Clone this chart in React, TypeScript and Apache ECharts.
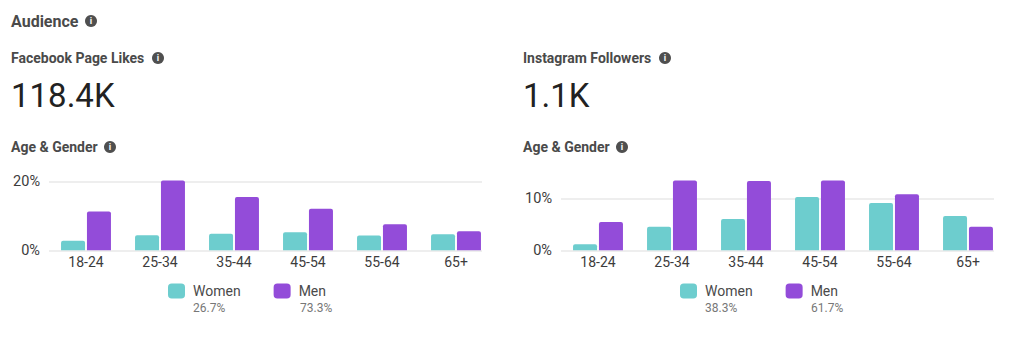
import React, { useEffect, useRef } from "react";
import * as echarts from "echarts";

const categories = ["18-24", "25-34", "35-44", "45-54", "55-64", "65+"];
const fbWomen = [2.8, 4.4, 4.8, 5.3, 4.3, 4.7];
const fbMen = [11.3, 20.4, 15.6, 12.1, 7.6, 5.6];
const igWomen = [1.2, 4.6, 6.1, 10.4, 9.2, 6.7];
const igMen = [5.5, 13.6, 13.5, 13.6, 10.9, 4.6];
const fbTicks = [0, 20];
const igTicks = [0, 10];
const fbShares = ["26.7%", "73.3%"];
const igShares = ["38.3%", "61.7%"];

const TEAL = "#6dcdce";
const PURPLE = "#934cd9";
const FONT = "Roboto, Arial, sans-serif";

const txt = (x: number, y: number, text: string, fontSize: number, fill: string, fontWeight: any = 400) => ({
  type: "text", x, y, style: { text, fontSize, fill, fontWeight, fontFamily: FONT, textVerticalAlign: "middle", textAlign: "left" },
});
const info = (x: number, y: number) => [
  { type: "circle", shape: { cx: x, cy: y, r: 6 }, style: { fill: "#4f4f4f" } },
  { type: "text", x, y, style: { text: "i", fontSize: 9, fontWeight: 700, fill: "#fff", fontFamily: FONT, textAlign: "center", textVerticalAlign: "middle" } },
];

export default function App() {
  const ref = useRef<HTMLDivElement>(null);
  useEffect(() => {
    document.body.style.margin = "0";
    const chart = echarts.init(ref.current!, null, { renderer: "svg" });
    const barGrid = (left: number) => ({ left, width: 444, top: 178.4, height: 71.9 });
    const lineGrid = (left: number) => ({ left, width: 433, top: 178.4, height: 71.9 });
    const xCat = (gridIndex: number) => ({
      type: "category", gridIndex, data: categories,
      axisLine: { show: false }, axisTick: { show: false },
      axisLabel: { color: "#3c3c3c", fontSize: 14, fontFamily: FONT, margin: 5 },
    });
    const xHidden = (gridIndex: number) => ({ type: "value", gridIndex, show: false, min: 0, max: 1 });
    const yHidden = (gridIndex: number, max: number) => ({ type: "value", gridIndex, min: 0, max, show: false, splitLine: { show: false } });
    const yShown = (gridIndex: number, max: number, ticks: number[]) => ({
      type: "value", gridIndex, min: 0, max,
      axisLine: { show: false },
      axisTick: { show: false, customValues: ticks },
      axisLabel: { customValues: ticks, formatter: "{value}%", color: "#3c3c3c", fontSize: 14.5, fontFamily: FONT, margin: 9 },
      splitLine: { show: true, lineStyle: { color: "#e9e9e9", width: 1.5 } },
    });
    const bar = (name: string, data: number[], color: string, idx: number) => ({
      type: "bar", name, data, xAxisIndex: idx, yAxisIndex: idx, barWidth: 24, barGap: "8%",
      itemStyle: { color, borderRadius: [2, 2, 0, 0] },
    });
    const legend = (left: number) => ({
      data: ["Women", "Men"], left, top: 283.5, orient: "horizontal", itemWidth: 17, itemHeight: 15, itemGap: 33,
      icon: "roundRect", selectedMode: false, padding: 0,
      textStyle: { color: "#4a4a4a", fontSize: 14, fontFamily: FONT, padding: [0, 0, 0, 3] },
    });
    chart.setOption({
      animation: false,
      backgroundColor: "#fff",
      grid: [barGrid(49), barGrid(561), lineGrid(49), lineGrid(561)],
      xAxis: [xCat(0), xCat(1), xHidden(2), xHidden(3)],
      yAxis: [yHidden(0, 21), yHidden(1, 14), yShown(2, 21, fbTicks), yShown(3, 14, igTicks)],
      legend: [legend(168), legend(680)],
      series: [
        bar("Women", fbWomen, TEAL, 0),
        bar("Men", fbMen, PURPLE, 0),
        bar("Women", igWomen, TEAL, 1),
        bar("Men", igMen, PURPLE, 1),
      ],
      graphic: [
        txt(11, 21, "Audience", 16, "#4a4a4a", 700), ...info(91, 21),
        txt(11, 58, "Facebook Page Likes", 14, "#4a4a4a", 700), ...info(158, 58),
        txt(11, 95, "118.4K", 33, "#222"),
        txt(11, 147, "Age & Gender", 14, "#4a4a4a", 700), ...info(110, 147),
        txt(523, 58, "Instagram Followers", 14, "#4a4a4a", 700), ...info(665, 58),
        txt(523, 95, "1.1K", 33, "#222"),
        txt(523, 147, "Age & Gender", 14, "#4a4a4a", 700), ...info(622, 147),
        txt(193, 308, fbShares[0], 12, "#777"),
        txt(300, 308, fbShares[1], 12, "#777"),
        txt(705, 308, igShares[0], 12, "#777"),
        txt(811, 308, igShares[1], 12, "#777"),
      ],
    });
    return () => chart.dispose();
  }, []);
  return <div ref={ref} style={{ width: 1024, height: 354 }} />;
}
